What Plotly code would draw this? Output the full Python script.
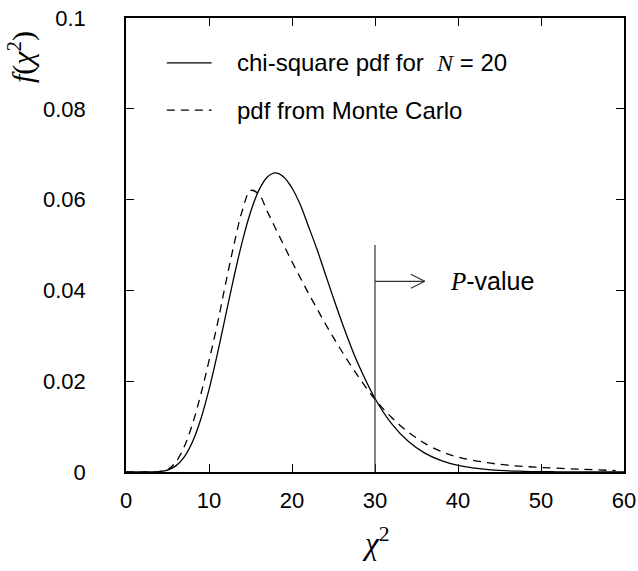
import plotly.graph_objects as go

# chi-square pdf, N = 20 (solid curve)
chi_x = [0, 2, 3, 4, 5, 6, 7, 8, 9, 10, 11, 12, 13, 14, 15, 16, 17, 18, 19, 20,
         21, 22, 23, 24, 25, 26, 27, 28, 30, 32, 34, 36, 38, 40, 44, 48, 52, 56, 60]
chi_pdf = [0.0, 0.0000005, 0.000012, 0.000095, 0.00043, 0.00135, 0.00328, 0.00662,
           0.01158, 0.01813, 0.02593, 0.03442, 0.04290, 0.05070, 0.05722, 0.06204,
           0.06493, 0.06588, 0.06500, 0.06255, 0.05886, 0.05404, 0.04910, 0.04368,
           0.03826, 0.03303, 0.02813, 0.02367, 0.01620, 0.01066, 0.00676, 0.00416,
           0.00249, 0.00145, 0.00046, 0.00014, 0.00004, 0.00001, 0.0]

# pdf from Monte Carlo (dashed curve)
mc_x = [0, 3, 4, 5, 6, 7, 8, 9, 10, 11, 12, 13, 14, 15, 16, 17, 18, 19, 20, 21,
        22, 23, 24, 25, 26, 27, 28, 29, 30, 31, 32, 33, 34, 35, 36, 38, 40, 43, 46,
        50, 55, 59]
mc_pdf = [0.0, 0.00001, 0.0001, 0.0005, 0.0022, 0.0055, 0.0105, 0.0170, 0.0245,
          0.0325, 0.0415, 0.0500, 0.0575, 0.0620, 0.0612, 0.0575, 0.0537, 0.0500,
          0.0463, 0.0428, 0.0393, 0.0360, 0.0327, 0.0296, 0.0266, 0.0237, 0.0210,
          0.0184, 0.0160, 0.0139, 0.0120, 0.0103, 0.0088, 0.0075, 0.0063, 0.0045,
          0.0033, 0.0022, 0.0015, 0.0010, 0.0006, 0.0003]

chi2_obs = 30
p_arrow_end = 36
p_arrow_y = 0.042
p_line_top = 0.05

SANS = "Liberation Sans, Arial, sans-serif"
SERIF = "Liberation Serif, Times New Roman, serif"

fig = go.Figure()
fig.add_trace(go.Scatter(x=chi_x, y=chi_pdf, mode="lines", line_shape="spline",
                         line=dict(color="black", width=1.3)))
fig.add_trace(go.Scatter(x=mc_x, y=mc_pdf, mode="lines", line_shape="spline",
                         line=dict(color="black", width=1.3, dash="8px,6px")))

# vertical line at observed chi2 and arrow to the right
fig.add_shape(type="line", x0=chi2_obs, x1=chi2_obs, y0=0, y1=p_line_top,
              line=dict(color="#333", width=1.2))
fig.add_shape(type="line", x0=chi2_obs, x1=p_arrow_end, y0=p_arrow_y, y1=p_arrow_y,
              line=dict(color="#333", width=1.2))
for dy in (7, -7):
    fig.add_shape(type="line", xsizemode="pixel", xanchor=p_arrow_end, x0=-14, x1=0,
                  ysizemode="pixel", yanchor=p_arrow_y, y0=dy, y1=0,
                  line=dict(color="#333", width=1.2))
fig.add_annotation(x=38.8, y=p_arrow_y, xanchor="left", yanchor="middle", showarrow=False,
                   text=f'<span style="font-family:{SERIF}"><i>P</i></span>-value',
                   font=dict(family=SANS, size=25, color="black"))

# legend drawn by hand
leg_rows = [(0.901, "solid", 'chi-square pdf for  <span style="font-family:'
             + SERIF + '"><i>N</i></span> = 20'),
            (0.797, "8px,6px", "pdf from Monte Carlo")]
for yp, dash, label in leg_rows:
    fig.add_shape(type="line", xref="paper", yref="paper", x0=0.082, x1=0.172,
                  y0=yp, y1=yp, line=dict(color="black", width=1.2, dash=dash))
    fig.add_annotation(xref="paper", yref="paper", x=0.218, y=yp, xanchor="left",
                       yanchor="middle", showarrow=False, text=label,
                       font=dict(family=SANS, size=24, color="black"))

# axis titles
fig.add_annotation(xref="paper", yref="paper", x=0.5, y=-0.2, showarrow=False,
                   text="<i>χ</i><sup>2</sup>", font=dict(family=SERIF, size=31, color="black"))
fig.add_annotation(xref="paper", yref="paper", x=-0.21, y=0.915, showarrow=False,
                   xanchor="center", yanchor="middle",
                   textangle=-90, text="<i>f</i>(<i>χ</i><sup>2</sup>)",
                   font=dict(family=SERIF, size=30, color="black"))

axis_style = dict(showline=True, mirror="ticks", linecolor="black", linewidth=1.5,
                  ticks="inside", ticklen=8, tickcolor="black", tickwidth=1.2,
                  showgrid=False, zeroline=False, automargin=False,
                  tickfont=dict(family=SANS, size=22, color="black"))
fig.update_xaxes(range=[0, 60], dtick=10, ticklabelstandoff=8, **axis_style)
fig.update_yaxes(range=[0, 0.1], dtick=0.02, ticklabelstandoff=34, **axis_style)

fig.update_layout(width=638, height=571, showlegend=False, template="none",
                  plot_bgcolor="white", paper_bgcolor="white",
                  margin=dict(l=126, r=14, t=18, b=99))

# drop the browser's default body margin so the figure sits at the page corner
fig.write_html("out.html", config={"displayModeBar": False},
               post_script="document.body.style.margin='0';")
